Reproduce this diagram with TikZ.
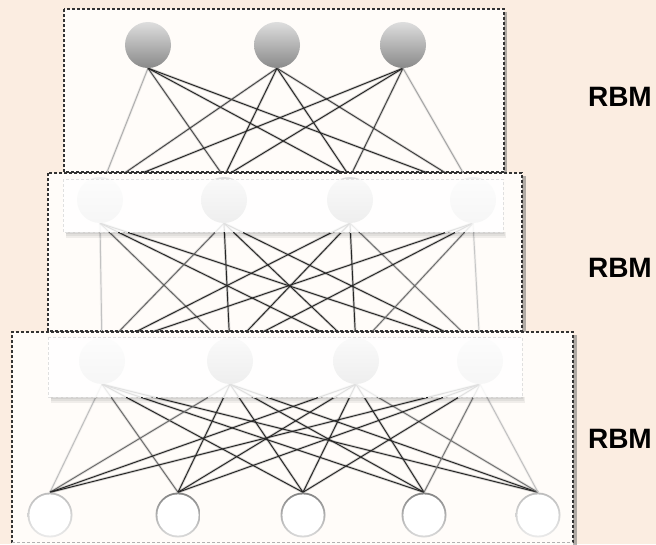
\documentclass[tikz,border=0pt]{standalone}
\usepackage{fontspec}
\setmainfont{Liberation Sans}
\usetikzlibrary{calc}

\definecolor{paper}{HTML}{FBEDE1}
\definecolor{boxfill}{HTML}{FFFCF9}

% drawing layers, bottom to top
\pgfdeclarelayer{bg}
\pgfdeclarelayer{fa}\pgfdeclarelayer{wa}
\pgfdeclarelayer{fb}\pgfdeclarelayer{wb}\pgfdeclarelayer{nb}\pgfdeclarelayer{ob}
\pgfdeclarelayer{fc}\pgfdeclarelayer{wc}\pgfdeclarelayer{nc}\pgfdeclarelayer{oc}
\pgfsetlayers{bg,fa,wa,fb,wb,nb,ob,fc,wc,nc,oc,main}

\tikzset{
  frame/.style={draw=black!80, line width=1.1pt, dash pattern=on 3pt off 2pt, fill=boxfill},
  frameshadow/.style={fill=black!55, opacity=0.55},
  band/.style={fill=white, fill opacity=0.86, draw=black!12, dash pattern=on 3pt off 2pt, line width=0.6pt},
  bandshadow/.style={fill=black, opacity=0.06},
  unit/.style={circle, minimum size=46pt, inner sep=0pt, shading=axis,
    top color=black!13, bottom color=black!46},
  faintunit/.style={unit, top color=black!6, bottom color=black!24},
  visible/.style={circle, minimum size=45pt, inner sep=0pt, shading=axis,
    top color=black!48, bottom color=black!14,
    path picture={\fill[white] (path picture bounding box.center) circle (20.6pt);}},
  faintvisible/.style={visible, top color=black!26, bottom color=black!8},
  halo/.style={line width=2.6pt, opacity=0.2},
  core/.style={line width=0.95pt},
  lbl/.style={font=\fontsize{28}{30}\selectfont\bfseries, inner sep=0pt, anchor=east},
}

% one connection: grey level, start, end
\newcommand\wire[3]{%
  \draw[halo, draw=black!#1] #2 -- #3;
  \draw[core, draw=black!#1] #2 -- #3;}

\begin{document}
\begin{tikzpicture}[x=1pt,y=-1pt]
\useasboundingbox (0,0) rectangle (656,544);

\begin{pgfonlayer}{bg}
  \fill[paper] (0,0) rectangle (656,544);
\end{pgfonlayer}

% ---------- upper RBM ----------
\begin{pgfonlayer}{fa}
  \fill[frameshadow] (67,12) rectangle (507,175);
  \path[frame] (64,9) rectangle (504,172);
\end{pgfonlayer}
\foreach \n/\x in {1/148,2/277,3/403}
  \node[unit] (t\n) at (\x,45) {};

% ---------- middle RBM ----------
\begin{pgfonlayer}{fb}
  \fill[frameshadow] (51,176) rectangle (526,334);
  \path[frame] (48,173) rectangle (522,331);
\end{pgfonlayer}
\begin{pgfonlayer}{nb}
  \node[faintunit] (h1) at (100,200) {};
  \node[unit]      (h2) at (224,200) {};
  \node[unit]      (h3) at (350,200) {};
  \node[faintunit] (h4) at (473,200) {};
\end{pgfonlayer}
\begin{pgfonlayer}{ob}
  \foreach \k in {2,4,6}
    \fill[bandshadow] (66,232) rectangle (503+\k/2,232+\k);
  \path[band] (63,179) rectangle (503,232);
\end{pgfonlayer}

% ---------- lower RBM ----------
\begin{pgfonlayer}{fc}
  \fill[frameshadow] (15,335) rectangle (577,548);
  \fill[boxfill] (12,332) rectangle (573,548);
  \draw[black!80, line width=1.1pt, dash pattern=on 3pt off 2pt]
    (12,548) -- (12,332) -- (573,332) -- (573,548);
  \draw[black!30, line width=0.8pt, dash pattern=on 3pt off 2pt]
    (12,542.5) -- (573,542.5);
\end{pgfonlayer}
\begin{pgfonlayer}{nc}
  \node[faintunit] (g1) at (102,361) {};
  \node[unit]      (g2) at (230,361) {};
  \node[unit]      (g3) at (356,361) {};
  \node[faintunit] (g4) at (480,361) {};
\end{pgfonlayer}
\begin{pgfonlayer}{oc}
  \foreach \k in {2,4,6}
    \fill[bandshadow] (51,397) rectangle (522+\k/2,397+\k);
  \path[band] (48,337) rectangle (522,397);
\end{pgfonlayer}
\node[faintvisible] (v1) at (50,515) {};
\node[visible]      (v2) at (178,515) {};
\node[visible]      (v3) at (303,515) {};
\node[visible]      (v4) at (424,515) {};
\node[faintvisible] (v5) at (538,515) {};

% ---------- connections ----------
\begin{pgfonlayer}{wa}
  \foreach \i in {1,2,3}{
    \foreach \j in {1,2,3,4}{
      \pgfmathsetmacro\xa{{148,277,403}[\i-1]}
      \pgfmathsetmacro\xb{{100,224,350,473}[\j-1]}
      \pgfmathsetmacro\dy{{10,23,23,10}[\j-1]}
      \pgfmathtruncatemacro\lv{max(22,min(85,85-140*(abs((\xa+\xb)/2-284)/220-0.35)))}
      \wire{\lv}{(t\i.south)}{([yshift=\dy pt]h\j.center)}
    }
  }
\end{pgfonlayer}
\begin{pgfonlayer}{wb}
  \foreach \i in {1,2,3,4}{
    \foreach \j in {1,2,3,4}{
      \pgfmathsetmacro\xa{{100,224,350,473}[\i-1]}
      \pgfmathsetmacro\xb{{102,230,356,480}[\j-1]}
      \pgfmathtruncatemacro\lv{max(22,min(85,85-140*(abs((\xa+\xb)/2-286)/237-0.35)))}
      \wire{\lv}{(h\i.south)}{([yshift=12pt]g\j.center)}
    }
  }
\end{pgfonlayer}
\begin{pgfonlayer}{wc}
  \foreach \i in {1,2,3,4}{
    \foreach \j in {1,2,3,4,5}{
      \pgfmathsetmacro\xa{{102,230,356,480}[\i-1]}
      \pgfmathsetmacro\xb{{50,178,303,424,538}[\j-1]}
      \pgfmathtruncatemacro\lv{max(22,min(85,85-140*(abs((\xa+\xb)/2-292)/280-0.35)))}
      \wire{\lv}{(g\i.south)}{(v\j.north)}
    }
  }
\end{pgfonlayer}

% ---------- labels ----------
\node[lbl] (la) at (652,97)  {RBM};
\node[lbl] (lb) at (652,268) {RBM};
\node[lbl] (lc) at (652,439) {RBM};
\end{tikzpicture}
\end{document}
